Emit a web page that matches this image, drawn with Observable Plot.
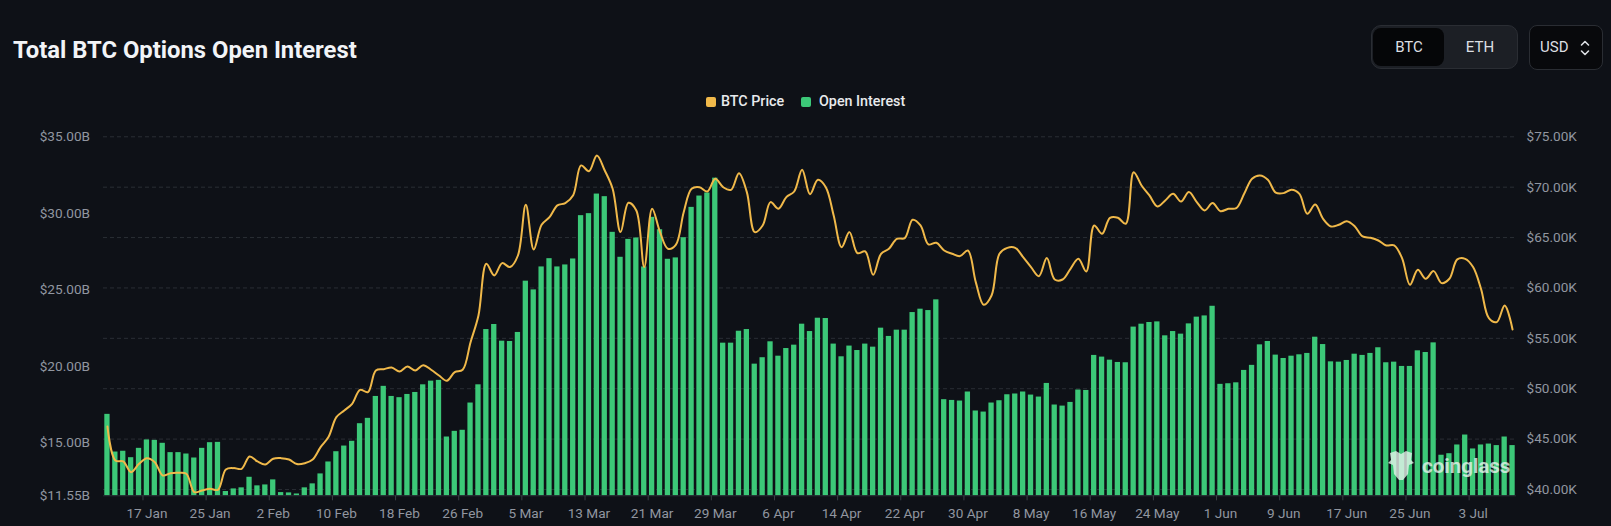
<!DOCTYPE html>
<html>
<head>
<meta charset="utf-8">
<script src="https://cdn.jsdelivr.net/npm/d3@7"></script>
<script src="https://cdn.jsdelivr.net/npm/@observablehq/plot@0.6"></script>
<style>
  html, body { margin: 0; padding: 0; background: #0e1117; overflow: hidden; }
  body { width: 1611px; height: 526px; font-family: Roboto, "Noto Sans", sans-serif; color: #e6e8eb; }
  #header { position: relative; width: 1611px; height: 120px; }
  #title { position: absolute; left: 13px; top: 36px; font-size: 23.8px; font-weight: 700; line-height: 28px; color: #f2f4f7; white-space: nowrap; }
  #seg { position: absolute; left: 1371px; top: 25px; width: 145px; height: 42px; background: #1c1f25; border: 1px solid #2a2d33; border-radius: 10px; }
  #seg .sel { position: absolute; left: 1px; top: 2px; width: 71px; height: 38px; background: #050608; border-radius: 8px; }
  #seg span { position: absolute; top: 0; line-height: 42px; font-size: 15px; color: #dcdfe3; transform: translateX(-50%); }
  #usd { position: absolute; left: 1529px; top: 25px; width: 72px; height: 43px; background: #08090c; border: 1px solid #2a2d33; border-radius: 8px; }
  #usd span { position: absolute; left: 10px; line-height: 43px; font-size: 15px; color: #dcdfe3; }
  #usd svg { position: absolute; left: 50px; top: 13px; }
  #legend { position: absolute; left: 0; top: 92px; width: 1611px; height: 20px; font-size: 14.3px; font-weight: 500; color: #e8eaed; }
  .sw { position: absolute; top: 4.5px; width: 10px; height: 10px; border-radius: 2px; }
  .lt { position: absolute; top: 0; line-height: 19px; white-space: nowrap; }
  #chart { position: relative; width: 1611px; height: 406px; }
  #wm { position: absolute; left: 1387px; top: 325px; opacity: 0.78; }
  #wm svg { overflow: visible; display: block; }
</style>
</head>
<body>
<div id="header">
  <div id="title">Total BTC Options Open Interest</div>
  <div id="seg"><div class="sel"></div><span style="left:37px">BTC</span><span style="left:108px">ETH</span></div>
  <div id="usd"><span>USD</span>
    <svg width="10" height="18" viewBox="0 0 10 18"><path d="M1.5 6 L5 2.5 L8.5 6 M1.5 12 L5 15.5 L8.5 12" fill="none" stroke="#dcdfe3" stroke-width="1.6" stroke-linecap="round" stroke-linejoin="round"/></svg>
  </div>
  <div id="legend">
    <div class="sw" style="left:706px;background:#f0b94a"></div><div class="lt" style="left:721px">BTC Price</div>
    <div class="sw" style="left:801px;background:#3cc878"></div><div class="lt" style="left:819px">Open Interest</div>
  </div>
</div>
<div id="chart">
  <div id="wm">
    <svg width="140" height="44" viewBox="0 0 140 44">
      <path d="M3 8 L9 6 L14 9 L19 6 L25 8 L24 15 L27 18 L22 20 L21 29 L16 35 L12 35 L7 29 L6 20 L1 18 L4 15 Z" fill="#e9f5ee"/>
      <text x="35" y="28" font-family="Roboto, sans-serif" font-size="20.5" font-weight="700" fill="#e9f5ee">coinglass</text>
    </svg>
  </div>
</div>
<script>
// ---- data ----
const startDate = "2024-01-12";
const endDateExclusive = "2024-07-09";

// Open interest, billions USD, one value per day from 12 Jan 2024
const openInterest = [
  16.87, 14.41, 14.46, 14.04, 14.65, 15.20, 15.17, 14.98, 14.37, 14.37,
  14.28, 14.02, 14.65, 15.02, 15.04, 11.83, 12.00, 12.07, 12.76, 12.20,
  12.26, 12.59, 11.76, 11.74, 11.67, 12.07, 12.33, 12.98, 13.76, 14.43,
  14.80, 15.11, 16.26, 16.61, 18.04, 18.70, 18.04, 17.96, 18.17, 18.30,
  18.80, 19.04, 19.09, 15.39, 15.76, 15.83, 17.61, 18.80, 22.41, 22.74,
  21.65, 21.63, 22.22, 25.57, 25.00, 26.50, 27.04, 26.50, 26.63, 27.02,
  29.85, 29.98, 31.26, 31.09, 28.76, 27.13, 28.30, 28.39, 26.50, 29.74,
  28.93, 27.00, 27.09, 28.41, 30.39, 31.13, 31.33, 32.30, 21.52, 21.52,
  22.30, 22.41, 20.15, 20.57, 21.61, 20.67, 21.17, 21.39, 22.76, 22.28,
  23.15, 23.13, 21.46, 20.63, 21.33, 21.04, 21.46, 21.26, 22.50, 21.96,
  22.37, 22.37, 23.52, 23.74, 23.65, 24.35, 17.83, 17.78, 17.74, 18.33,
  17.09, 17.02, 17.61, 17.76, 18.15, 18.20, 18.33, 18.13, 18.00, 18.89,
  17.48, 17.41, 17.65, 18.46, 18.43, 20.72, 20.61, 20.41, 20.26, 20.24,
  22.57, 22.76, 22.87, 22.91, 22.00, 22.28, 22.11, 22.78, 23.22, 23.30,
  23.93, 18.83, 18.87, 18.93, 19.74, 20.07, 21.41, 21.63, 20.74, 20.52,
  20.67, 20.76, 20.85, 21.91, 21.43, 20.30, 20.28, 20.39, 20.80, 20.72,
  20.85, 21.22, 20.24, 20.28, 20.00, 20.00, 21.02, 20.91, 21.54, 14.20,
  14.30, 14.87, 15.52, 14.61, 14.87, 14.93, 14.83, 15.39, 14.83
];

// BTC price, thousands USD, same days
const btcPrice = [
  46.25, 42.88, 42.78, 41.72, 42.55, 43.11, 42.71, 41.39, 41.62, 41.66,
  41.56, 39.74, 39.90, 40.07, 39.97, 41.99, 42.12, 42.05, 43.28, 42.78,
  42.48, 43.05, 43.11, 42.98, 42.52, 42.61, 42.98, 44.20, 45.20, 47.18,
  47.84, 48.50, 49.89, 49.66, 51.81, 51.94, 52.11, 51.71, 52.21, 51.81,
  52.34, 51.88, 51.31, 50.79, 51.65, 51.88, 54.62, 57.27, 62.40, 61.24,
  62.46, 62.07, 63.22, 68.25, 63.82, 66.27, 67.03, 68.19, 68.42, 69.20,
  72.16, 71.59, 73.15, 71.66, 69.84, 65.54, 68.45, 67.69, 62.07, 67.86,
  65.54, 63.89, 64.28, 67.52, 69.84, 70.00, 69.57, 70.83, 70.00, 69.74,
  71.39, 69.51, 65.54, 66.20, 68.52, 67.86, 69.01, 69.57, 71.73, 69.30,
  70.73, 70.00, 67.19, 64.05, 65.54, 63.46, 63.62, 61.30, 63.39, 63.89,
  64.88, 64.94, 66.76, 66.20, 64.32, 64.48, 63.72, 63.39, 63.16, 63.72,
  60.58, 58.33, 59.25, 63.39, 63.98, 63.98, 63.06, 62.07, 61.17, 62.96,
  60.84, 60.84, 61.90, 62.89, 61.64, 66.20, 65.37, 66.96, 66.96, 66.37,
  71.49, 70.17, 69.18, 68.09, 68.68, 69.34, 68.58, 69.51, 68.52, 67.69,
  68.42, 67.62, 67.86, 67.92, 69.34, 70.83, 71.16, 70.73, 69.46, 69.41,
  69.74, 69.34, 67.36, 68.28, 66.86, 66.10, 66.27, 66.63, 66.13, 65.11,
  64.98, 64.71, 64.22, 64.22, 62.96, 60.31, 61.80, 60.91, 61.67, 60.48,
  60.91, 62.83, 62.89, 62.07, 59.92, 57.00, 56.61, 58.26, 55.88
];

const leftTicks = [11.55, 15, 20, 25, 30, 35];          // $B
const rightTicks = [40, 45, 50, 55, 60, 65, 70, 75];    // $K
const xTickDates = ["2024-01-17","2024-01-25","2024-02-02","2024-02-10","2024-02-18","2024-02-26",
  "2024-03-05","2024-03-13","2024-03-21","2024-03-29","2024-04-06","2024-04-14","2024-04-22",
  "2024-04-30","2024-05-08","2024-05-16","2024-05-24","2024-06-01","2024-06-09","2024-06-17",
  "2024-06-25","2024-07-03"];

// ---- build ----
const days = d3.utcDay.range(new Date(startDate), new Date(endDateExclusive));
const rows = days.map((d, i) => ({
  date: d,
  next: d3.utcDay.offset(d, 1),
  mid: d3.utcHour.offset(d, 12),
  oi: openInterest[i],
  price: btcPrice[i]
}));

// price axis (right) is mapped onto the OI axis (left): 75K aligns with 35B
const K = 0.6582; // billions per thousand-dollar step of price
const p2o = p => 35 - (75 - p) * K;
const o2p = o => 75 - (35 - o) / K;

const ticks = xTickDates.map(s => new Date(s));
const fmtDate = d3.utcFormat("%-d %b");

const chart = Plot.plot({
  width: 1611,
  height: 406,
  marginTop: 16.3,
  marginBottom: 30.7,
  marginLeft: 103,
  marginRight: 95,
  style: { background: "transparent", color: "#8f949c", fontFamily: "Roboto, 'Noto Sans', sans-serif", fontSize: "13.6px", overflow: "visible" },
  x: { type: "utc", domain: [days[0], d3.utcDay.offset(days[days.length - 1], 1)], label: null },
  y: { domain: [11.55, 35], label: null },
  marks: [
    Plot.ruleY(rightTicks, { y: p => p2o(p), stroke: "#2a2e35", strokeDasharray: "4,3", strokeWidth: 1 }),
    Plot.rectY(rows, { x1: "date", x2: "next", y1: 11.55, y2: "oi", fill: "#3cc878", insetLeft: 1.3, insetRight: 1.3 }),
    Plot.ruleY([11.55], { stroke: "#2c3038" }),
    Plot.line(rows, { x: "mid", y: d => p2o(d.price), stroke: "#f0b94a", strokeWidth: 2, curve: "catmull-rom" }),
    Plot.axisY({ anchor: "left", ticks: leftTicks, tickSize: 0, tickPadding: 13.5, tickFormat: v => "$" + v.toFixed(2) + "B", color: "#9196a0" }),
    Plot.axisY({ anchor: "right", ticks: rightTicks.map(p2o), tickSize: 0, tickPadding: 10, tickFormat: v => "$" + o2p(v).toFixed(2) + "K", color: "#9196a0" }),
    Plot.axisX({ ticks, tickSize: 5, tickFormat: () => "", color: "#3b3f47" }),
    Plot.axisX({ ticks, tickSize: 0, tickPadding: 12.5, tickFormat: fmtDate, dx: 3.95, color: "#9196a0" })
  ]
});
document.getElementById("chart").prepend(chart);
</script>
</body>
</html>
